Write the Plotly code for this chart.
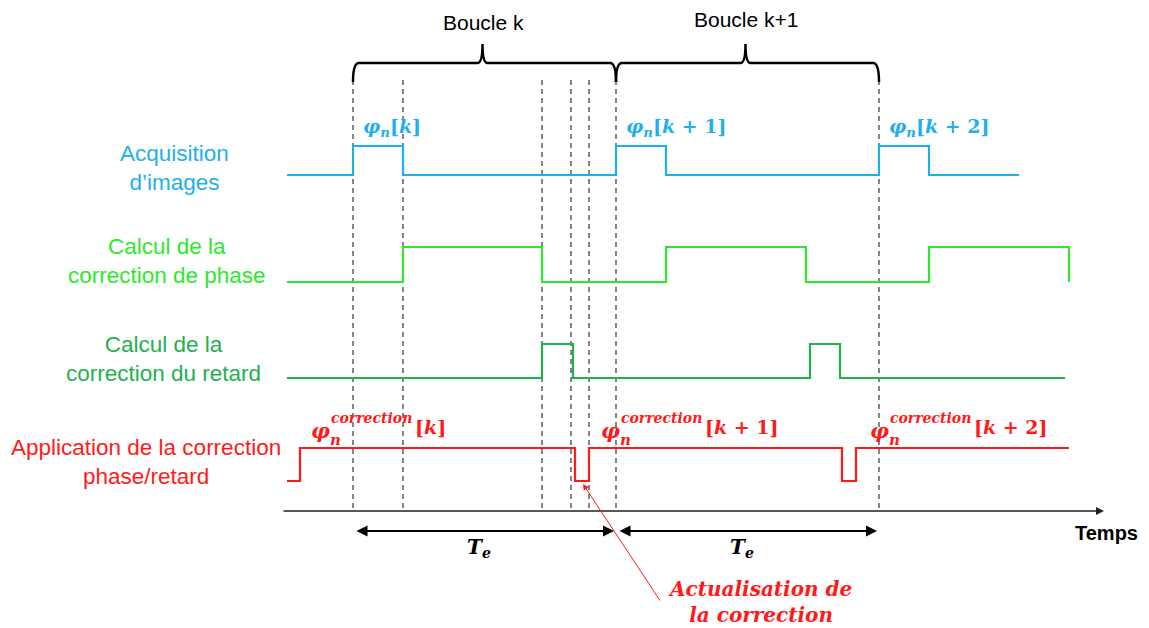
import plotly.graph_objects as go

# time units on the horizontal axis (arbitrary), one lane per signal
loop_bounds = [353, 616, 879]           # start of loop k, k+1, k+2
event_times = [353, 403, 542, 571, 589, 616, 879]   # dashed guides

acq_t = [287, 353, 403, 616, 666, 879, 929, 1019]
acq_v = [0, 1, 0, 1, 0, 1, 0, 0]

phase_t = [287, 403, 542, 666, 806, 929, 1069]
phase_v = [0, 1, 0, 1, 0, 1, 0]

delay_t = [287, 542, 573, 810, 840, 1065]
delay_v = [0, 1, 0, 1, 0, 0]

appl_t = [287, 300, 575, 589, 842, 856, 1069]
appl_v = [0, 1, 0, 1, 0, 1, 1]

lane_names = ["Acquisition<br>d’images",
              "Calcul de la<br>correction de phase",
              "Calcul de la<br>correction du retard",
              "Application de la correction<br>phase/retard"]
lane_colors = ["#1fb0ec", "#2ee82e", "#1fb14e", "#ff1a1a"]
lane_low = [175, 282, 378, 481]
lane_high = [146, 247, 344, 448]
lane_label_x = [174, 167, 163, 146]
lane_label_y = [168, 261, 359, 462]

acq_labels = ["k", "k + 1", "k + 2"]
loop_labels = ["Boucle k", "Boucle k+1"]

signals = [(acq_t, acq_v), (phase_t, phase_v), (delay_t, delay_v), (appl_t, appl_v)]

fig = go.Figure()

# dashed guide lines
for t in event_times:
    fig.add_trace(go.Scatter(x=[t, t], y=[80, 511], mode="lines",
                             line=dict(color="#333333", width=1.2, dash="5px,4px"),
                             hoverinfo="skip", showlegend=False))

for i, (t, v) in enumerate(signals):
    y = [lane_low[i] - lv * (lane_low[i] - lane_high[i]) for lv in v]
    fig.add_trace(go.Scatter(x=t, y=y, mode="lines", line_shape="hv",
                             line=dict(color=lane_colors[i], width=2.2),
                             hoverinfo="skip", showlegend=False))
    fig.add_annotation(x=lane_label_x[i], y=lane_label_y[i],
                       text=lane_names[i], showarrow=False, align="center",
                       font=dict(family="Liberation Sans", size=22.5, color=lane_colors[i]))

# time axis
fig.add_annotation(x=1104, y=511, ax=282, ay=511, xref="x", yref="y", axref="x", ayref="y",
                   showarrow=True, arrowhead=2, arrowsize=1, arrowwidth=1.6, arrowcolor="#222222", text="")
fig.add_annotation(x=1106, y=533, text="<b>Temps</b>", showarrow=False, xanchor="center",
                   font=dict(family="Liberation Sans", size=20, color="black"))

# braces and period arrows
for j in range(len(loop_bounds) - 1):
    x0, x1 = loop_bounds[j], loop_bounds[j + 1]
    tip = (x0 + x1) / 2 - 2
    path = (f"M {x0},82 Q {x0},63 {x0+6},63 L {tip-5},63 Q {tip},63 {tip},44 "
            f"Q {tip},63 {tip+5},63 L {x1-6},63 Q {x1},63 {x1},82")
    fig.add_shape(type="path", path=path, line=dict(color="black", width=2.5), xref="x", yref="y")
    fig.add_annotation(x=tip + 1, y=22 - 3 * j, text=loop_labels[j], showarrow=False,
                       font=dict(family="Liberation Sans", size=21, color="black"))
    fig.add_annotation(x=x1 - 2, y=531, ax=x0 + 2, ay=531, xref="x", yref="y", axref="x", ayref="y",
                       showarrow=True, arrowhead=2, arrowside="end+start", arrowsize=1,
                       arrowwidth=2.2, arrowcolor="black", text="")
    fig.add_annotation(x=tip - 4, y=548, text="<b><i>T<sub>e</sub></i></b>", showarrow=False,
                       font=dict(family="DejaVu Serif", size=20, color="black"))

math_font = "DejaVu Serif"
for j, lab in enumerate(acq_labels):
    x0 = loop_bounds[j] + 8
    fig.add_annotation(x=x0, y=127, xanchor="left", showarrow=False,
                       text=f"<b><i>φ<sub>n</sub></i>[<i>{lab.split(' ')[0]}</i>{lab[1:]}]</b>",
                       font=dict(family=math_font, size=19, color=lane_colors[0]))
    xr = [309, 599, 868][j]
    fig.add_annotation(x=xr, y=430, xanchor="left", showarrow=False,
                       text="<b><i>φ</i></b>", font=dict(family=math_font, size=21, color=lane_colors[3]))
    fig.add_annotation(x=xr + 19, y=440, xanchor="left", showarrow=False,
                       text="<b><i>n</i></b>", font=dict(family=math_font, size=15, color=lane_colors[3]))
    fig.add_annotation(x=xr + 20, y=418, xanchor="left", showarrow=False,
                       text="<b><i>correction</i></b>", font=dict(family=math_font, size=14, color=lane_colors[3]))
    fig.add_annotation(x=xr + 104, y=427, xanchor="left", showarrow=False,
                       text=f"<b>[<i>{lab.split(' ')[0]}</i>{lab[1:]}]</b>",
                       font=dict(family=math_font, size=19, color=lane_colors[3]))

# update pointer
fig.add_annotation(x=583, y=484, ax=661, ay=602, xref="x", yref="y", axref="x", ayref="y",
                   showarrow=True, arrowhead=2, arrowsize=1.2, arrowwidth=1, arrowcolor="#ff1a1a", text="")
fig.add_annotation(x=760, y=602, text="<b><i>Actualisation de<br>la correction</i></b>",
                   showarrow=False, align="center",
                   font=dict(family=math_font, size=20, color="#ff1a1a"))

# the page body has an 8px margin, so the plot area starts at 8,8
fig.update_xaxes(range=[8, 1149], visible=False)
fig.update_yaxes(range=[628, 8], visible=False)
fig.update_layout(width=1141, height=620, margin=dict(l=0, r=0, t=0, b=0),
                  plot_bgcolor="white", paper_bgcolor="white")

fig.write_html("out.html")
